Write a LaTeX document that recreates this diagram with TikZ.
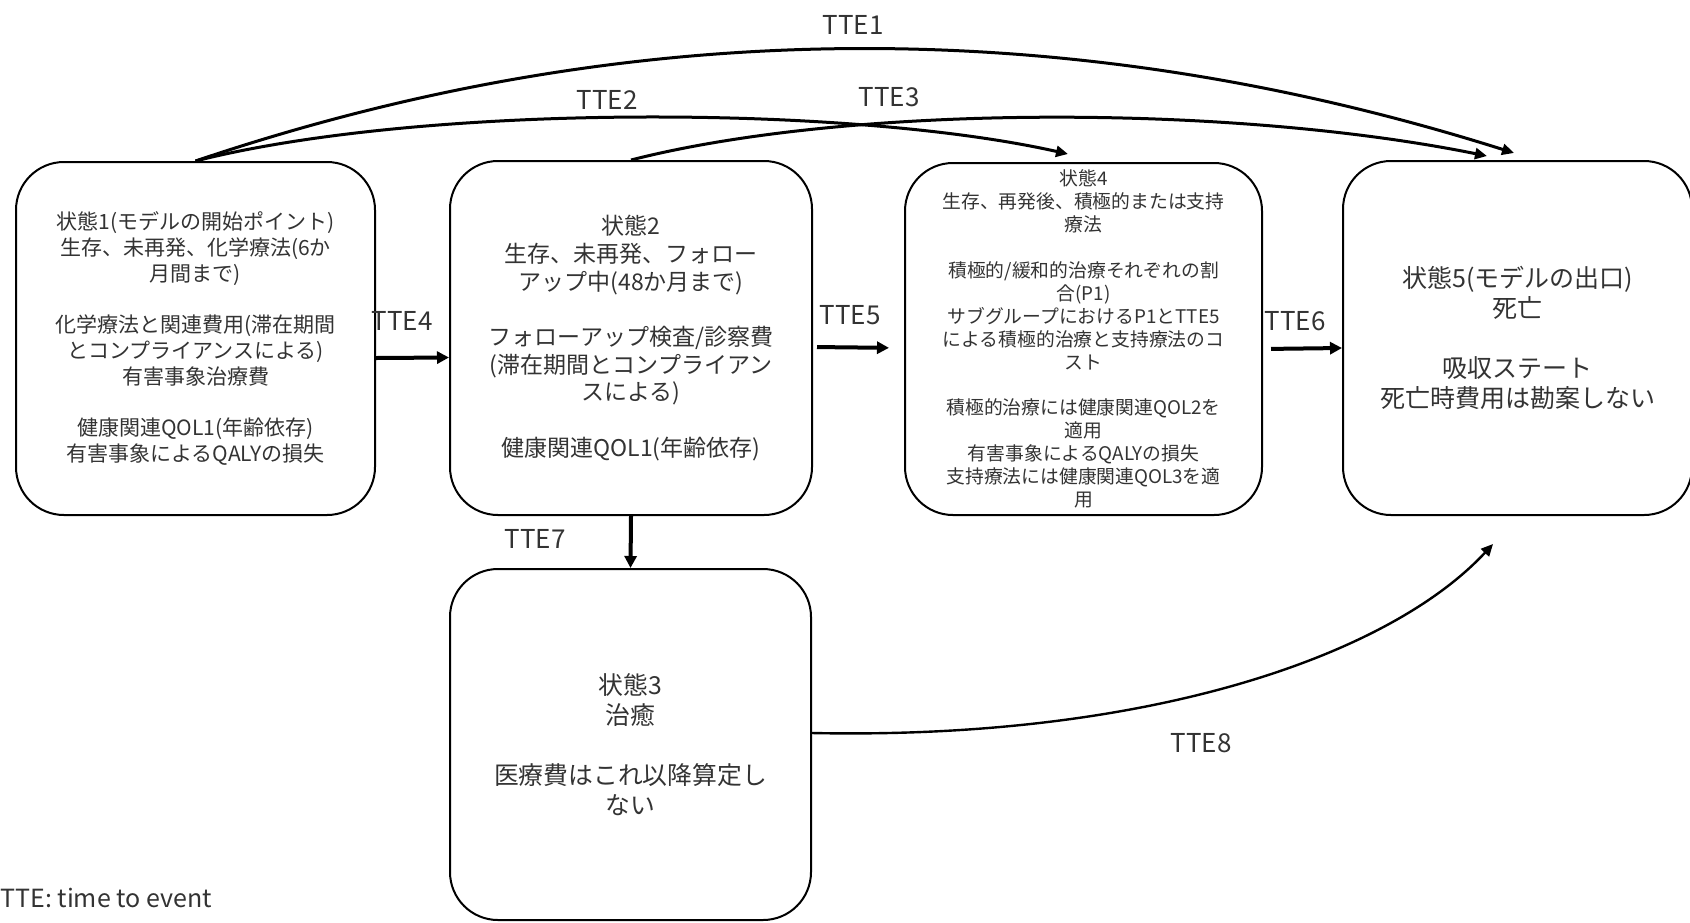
\documentclass[tikz,border=0pt]{standalone}
\usepackage{fontspec}
\setmainfont{Noto Sans CJK JP}
\usetikzlibrary{arrows.meta,calc}
\begin{document}
\begin{tikzpicture}[x=0.5pt,y=-0.5pt,
  box/.style={draw=black, line width=1pt, rounded corners=24pt, align=center, inner sep=0pt, text=black!80},
  arr/.style={line width=2pt, -{Triangle[length=6pt,width=6pt]}},
  carr/.style={line width=1.5pt, -{Triangle[length=6pt,width=5.5pt]}},
  lbl/.style={inner sep=0pt, text=black!80, font=\fontsize{13pt}{15pt}\selectfont}]
\useasboundingbox (0,0) rectangle (1690,922);

\node[box, minimum width=179.5pt, minimum height=176.5pt, font=\fontsize{10.5pt}{12.85pt}\selectfont] (b1) at (195.5,338.5)
 {状態1(モデルの開始ポイント)\\生存、未再発、化学療法(6か\\月間まで)\\[12.85pt]
  化学療法と関連費用(滞在期間\\とコンプライアンスによる)\\有害事象治療費\\[12.85pt]
  健康関連QOL1(年齢依存)\\有害事象によるQALYの損失};

\node[box, minimum width=181pt, minimum height=177pt, font=\fontsize{11.5pt}{13.85pt}\selectfont] (b2) at (631,338)
 {状態2\\生存、未再発、フォロー\\アップ中(48か月まで)\\[13.85pt]
  フォローアップ検査/診察費\\(滞在期間とコンプライアン\\スによる)\\[13.85pt]
  健康関連QOL1(年齢依存)};

\node[box, minimum width=178.5pt, minimum height=176pt, font=\fontsize{9.4pt}{11.45pt}\selectfont] (b4) at (1083.5,339)
 {状態4\\生存、再発後、積極的または支持\\療法\\[11.45pt]
  積極的/緩和的治療それぞれの割\\合(P1)\\サブグループにおけるP1とTTE5\\による積極的治療と支持療法のコ\\スト\\[11.45pt]
  積極的治療には健康関連QOL2を\\適用\\有害事象によるQALYの損失\\支持療法には健康関連QOL3を適\\用};

\node[box, minimum width=174.5pt, minimum height=177pt, font=\fontsize{12.5pt}{15pt}\selectfont] (b5) at (1517.5,338)
 {状態5(モデルの出口)\\死亡\\[15pt]吸収ステート\\死亡時費用は勘案しない};

\node[box, minimum width=180.5pt, minimum height=175.5pt, font=\fontsize{12.4pt}{15pt}\selectfont] (b3) at (630.5,744.5)
 {状態3\\治癒\\[15pt]医療費はこれ以降算定し\\ない};

\coordinate (e1) at ($(b5.north)+(-3.5,-7)$);
\coordinate (e3) at ($(b5.north)+(-30.5,-4)$);
\coordinate (e2) at ($(b4.north)+(-15.5,-8)$);
\coordinate (e8) at ($(b5.south)+(-24.5,28)$);

\draw[carr] (b1.north) .. controls (630,14) and (1068,12) .. (e1);
\draw[carr] (b1.north) .. controls (420,104) and (845,104) .. (e2);
\draw[carr] (b2.north) .. controls (850,104) and (1230,104) .. (e3);
\draw[arr] ([yshift=-9.75pt]b1.east) -- ([yshift=-9.75pt]b2.west);
\draw[arr, shorten <=2pt, shorten >=7.5pt] ([yshift=-4.5pt]b2.east) -- ([yshift=-4.5pt]b4.west);
\draw[arr, shorten <=4pt] ([yshift=-5pt]b4.east) -- ([yshift=-5pt]b5.west);
\draw[arr] (b2.south) -- (b3.north);
\draw[line width=1.2pt, -{Triangle[length=6pt,width=5.5pt]}] ([yshift=5.75pt]b3.east) .. controls (1150,740) and (1390,655) .. (e8);

\node[lbl] (t1) at (853,25) {TTE1};
\node[lbl] (t2) at (607,100) {TTE2};
\node[lbl] (t3) at (889,97) {TTE3};
\node[lbl] (t4) at (402,321) {TTE4};
\node[lbl] (t5) at (850,315) {TTE5};
\node[lbl] (t6) at (1295,321) {TTE6};
\node[lbl] (t7) at (535,539) {TTE7};
\node[lbl] (t8) at (1201,743) {TTE8};
\node[inner sep=0pt, anchor=base west, text=black!80, font=\fontsize{12.5pt}{15pt}\selectfont] (leg) at (0,907) {TTE: time to event};
\end{tikzpicture}
\end{document}
